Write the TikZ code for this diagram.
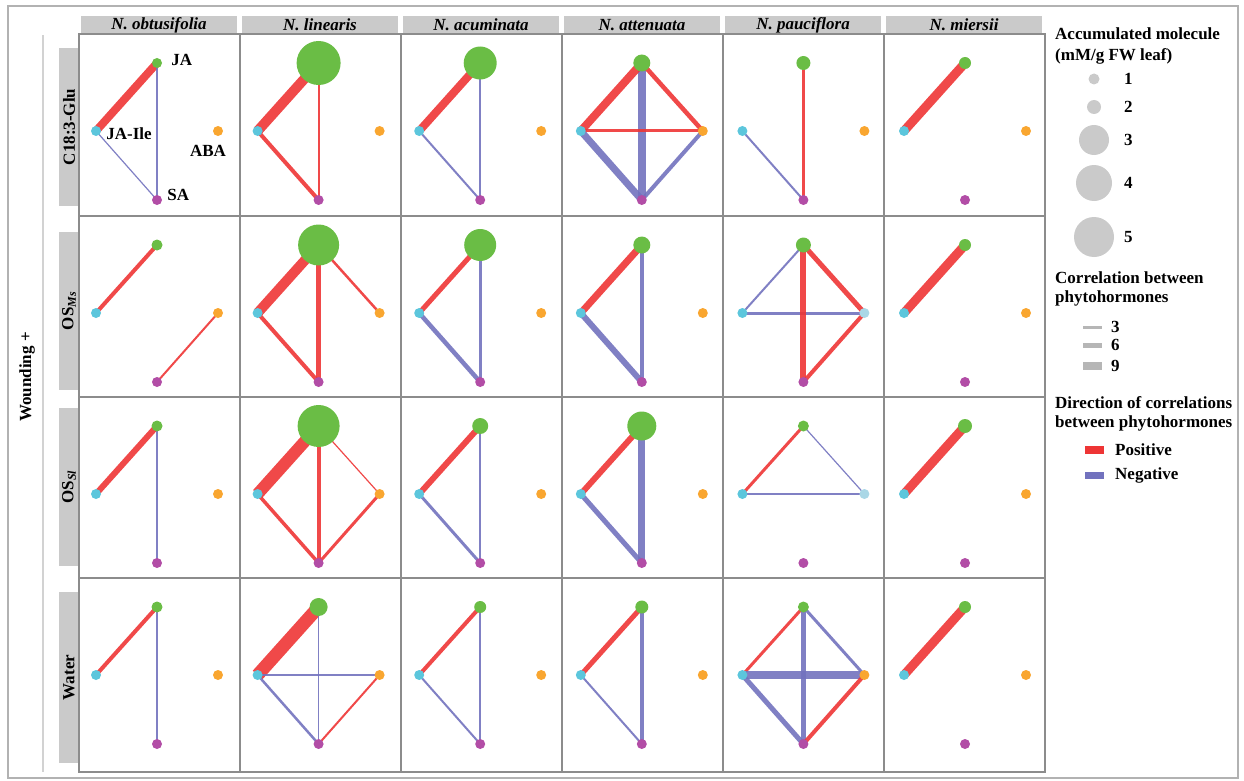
\documentclass[tikz,border=0pt]{standalone}
\usepackage{fontspec}
\setmainfont{Liberation Serif}
\usetikzlibrary{backgrounds}

\definecolor{jagruen}{HTML}{6ABD45}
\definecolor{ilecyan}{HTML}{5CC6DC}
\definecolor{abaorange}{HTML}{F9A630}
\definecolor{abahell}{HTML}{AAD7E6}
\definecolor{salila}{HTML}{B24DA6}
\definecolor{rot}{HTML}{EE3535}
\definecolor{blau}{HTML}{7272BE}
\definecolor{grau}{HTML}{CACACA}
\definecolor{linie}{HTML}{8C8C8C}

\begin{document}
\begin{tikzpicture}[x=1pt, y=-1pt, inner sep=0pt,
			font=\fontsize{17}{20}\selectfont\bfseries,
			punkt/.style={circle, fill=#1, minimum size=10pt},
			positiv/.style={draw=rot, opacity=0.9},
			negativ/.style={draw=blau, opacity=0.9},
			kreis/.style={circle, fill=grau, minimum size=#1},
			balken/.style={fill=#1, minimum width=19pt}]
			%Bildbereich
			\useasboundingbox (0,0) rectangle (1244,781);
			%Rahmen zeichnen
			\draw[color=gray!60, line width=1.2pt] (8,6) rectangle (1238,778);
			\fill[color=gray!35] (42,35) rectangle (44,772);
			\node[rotate=90] (wund) at (27,377) {Wounding +};
			%Kopfleisten
			\foreach \c/\art in {1/obtusifolia, 2/linearis, 3/acuminata, 4/attenuata, 5/pauciflora, 6/miersii} {
				\fill[grau] ({79+161*(\c-1)+2},16) rectangle ({79+161*\c-3},34);
				\node[font=\fontsize{17}{20}\selectfont\bfseries\itshape] (kopf-\c) at ({79+161*(\c-1)+80},25) {N. \art};
			}
			%Zeilenleisten
			\foreach \r/\yo/\yu/\titel in {1/48/206/C18:3-Glu, 2/232/390/OS\textsubscript{\itshape Ms}, 3/408/566/OS\textsubscript{\itshape Sl}, 4/592/763/Water} {
				\fill[grau] (59,\yo) rectangle (79,\yu);
				\node[rotate=90] (zeile-\r) at (69,{(\yo+\yu)/2}) {\titel};
			}
			%Raster
			\foreach \yo/\yu in {34/216, 216/397, 397/578, 578/772}
				\foreach \c in {1,...,6}
					\draw[linie, line width=1.2pt] ({79+161*(\c-1)},\yo) rectangle ({79+161*\c},\yu);
			%Knoten: Radius JA / Farbe ABA
			\foreach \r/\yt/\liste in {1/34/{5/abaorange,22/abaorange,16.5/abaorange,8.5/abaorange,7/abaorange,6/abaorange},
				2/216/{5.5/abaorange,20.5/abaorange,16/abaorange,8.5/abaorange,7.5/abahell,6/abaorange},
				3/397/{5.5/abaorange,21/abaorange,8/abaorange,14.5/abaorange,5.5/abahell,7/abaorange},
				4/578/{5.5/abaorange,9/abaorange,6/abaorange,6.5/abaorange,5.5/abaorange,6/abaorange}}
				\foreach \jr/\af [count=\c] in \liste {
					\pgfmathsetmacro{\xl}{79+161.6*(\c-1)}
					\node[punkt=jagruen, minimum size=2*\jr] (ja-\c-\r) at (\xl+78,\yt+29) {};
					\node[punkt=ilecyan] (jaile-\c-\r) at (\xl+17,\yt+97) {};
					\node[punkt=\af] (aba-\c-\r) at (\xl+139,\yt+97) {};
					\node[punkt=salila] (sa-\c-\r) at (\xl+78,\yt+166) {};
				}
			%Korrelationen
			\begin{pgfonlayer}{background}
			\foreach \c/\r/\von/\nach/\breite/\art in {
				1/1/jaile/ja/8/positiv, 1/1/ja/sa/2.5/negativ, 1/1/jaile/sa/1.2/negativ,
				2/1/jaile/ja/10/positiv, 2/1/jaile/sa/4/positiv, 2/1/ja/sa/2/positiv,
				3/1/jaile/ja/8/positiv, 3/1/ja/sa/2.5/negativ, 3/1/jaile/sa/2/negativ,
				4/1/ja/sa/8/negativ, 4/1/jaile/sa/7/negativ, 4/1/aba/sa/4/negativ, 4/1/jaile/ja/8/positiv, 4/1/ja/aba/4.5/positiv, 4/1/jaile/aba/3/positiv,
				5/1/ja/sa/3/positiv, 5/1/jaile/sa/2/negativ,
				6/1/jaile/ja/9/positiv,
				1/2/jaile/ja/4/positiv, 1/2/sa/aba/2/positiv,
				2/2/jaile/ja/10/positiv, 2/2/ja/sa/5/positiv, 2/2/jaile/sa/4/positiv, 2/2/ja/aba/2.5/positiv,
				3/2/jaile/ja/5/positiv, 3/2/ja/sa/3/negativ, 3/2/jaile/sa/4.5/negativ,
				4/2/jaile/ja/7/positiv, 4/2/ja/sa/4/negativ, 4/2/jaile/sa/6/negativ,
				5/2/ja/jaile/2/negativ, 5/2/jaile/aba/3/negativ, 5/2/ja/sa/6/positiv, 5/2/ja/aba/5/positiv, 5/2/aba/sa/4/positiv,
				6/2/jaile/ja/9/positiv,
				1/3/jaile/ja/6/positiv, 1/3/ja/sa/2/negativ,
				2/3/jaile/ja/12/positiv, 2/3/ja/sa/4/positiv, 2/3/jaile/sa/3.5/positiv, 2/3/aba/sa/3/positiv, 2/3/ja/aba/1.2/positiv,
				3/3/jaile/ja/6/positiv, 3/3/ja/sa/2/negativ, 3/3/jaile/sa/3/negativ,
				4/3/jaile/ja/6/positiv, 4/3/ja/sa/7/negativ, 4/3/jaile/sa/5/negativ,
				5/3/jaile/ja/3/positiv, 5/3/ja/aba/1.2/negativ, 5/3/jaile/aba/2.5/negativ,
				6/3/jaile/ja/9/positiv,
				1/4/jaile/ja/4/positiv, 1/4/ja/sa/2/negativ,
				2/4/jaile/ja/13/positiv, 2/4/jaile/aba/2.5/negativ, 2/4/ja/sa/1.5/negativ, 2/4/jaile/sa/2.5/negativ, 2/4/aba/sa/2/positiv,
				3/4/jaile/ja/4/positiv, 3/4/ja/sa/2/negativ, 3/4/jaile/sa/2/negativ,
				4/4/jaile/ja/5/positiv, 4/4/ja/sa/3.5/negativ, 4/4/jaile/sa/2/negativ,
				5/4/jaile/ja/3/positiv, 5/4/ja/aba/3/negativ, 5/4/ja/sa/5/negativ, 5/4/jaile/aba/8/negativ, 5/4/jaile/sa/5/negativ, 5/4/aba/sa/4/positiv,
				6/4/jaile/ja/9/positiv}
				\draw[\art, line width=\breite pt] (\von-\c-\r.center) -- (\nach-\c-\r.center);
			\end{pgfonlayer}
			%Beschriftung
			\node[anchor=west] (lab-ja) at ([xshift=9pt,yshift=3pt]ja-1-1.east) {JA};
			\node[anchor=west] (lab-jaile) at ([xshift=5pt,yshift=-3pt]jaile-1-1.east) {JA-Ile};
			\node[anchor=north] (lab-aba) at ([xshift=-10pt,yshift=-9pt]aba-1-1.south) {ABA};
			\node[anchor=west] (lab-sa) at ([xshift=5pt,yshift=5pt]sa-1-1.east) {SA};
			%Legende
			\node[anchor=base west] (leg-menge) at (1055,40) {Accumulated molecule};
			\node[anchor=base west] (leg-einheit) at (1055,61) {(mM/g FW leaf)};
			\foreach \n/\rad/\y in {1/5.5/79, 2/7/107, 3/15/140, 4/18/183, 5/20/237} {
				\node[kreis=2*\rad] (leg-kreis-\n) at (1094,\y) {};
				\node[anchor=west] (leg-wert-\n) at (1124,\y) {\n};
			}
			\node[anchor=base west] (leg-korr) at (1055,283) {Correlation between};
			\node[anchor=base west] (leg-korr2) at (1055,302) {phytohormones};
			\foreach \n/\h/\y in {3/3/327, 6/5/345, 9/8/366} {
				\node[balken=grau!90!black, minimum height=\h pt] (leg-balken-\n) at (1092,\y) {};
				\node[anchor=west] (leg-staerke-\n) at (1111,\y) {\n};
			}
			\node[anchor=base west] (leg-richt) at (1055,408) {Direction of correlations};
			\node[anchor=base west] (leg-richt2) at (1055,427) {between phytohormones};
			\node[balken=rot, minimum height=8pt] (leg-pos) at (1094,450) {};
			\node[anchor=west] (leg-pos-text) at (1115,450) {Positive};
			\node[balken=blau, minimum height=7pt] (leg-neg) at (1094,475) {};
			\node[anchor=west] (leg-neg-text) at (1115,475) {Negative};
		\end{tikzpicture}
\end{document}
